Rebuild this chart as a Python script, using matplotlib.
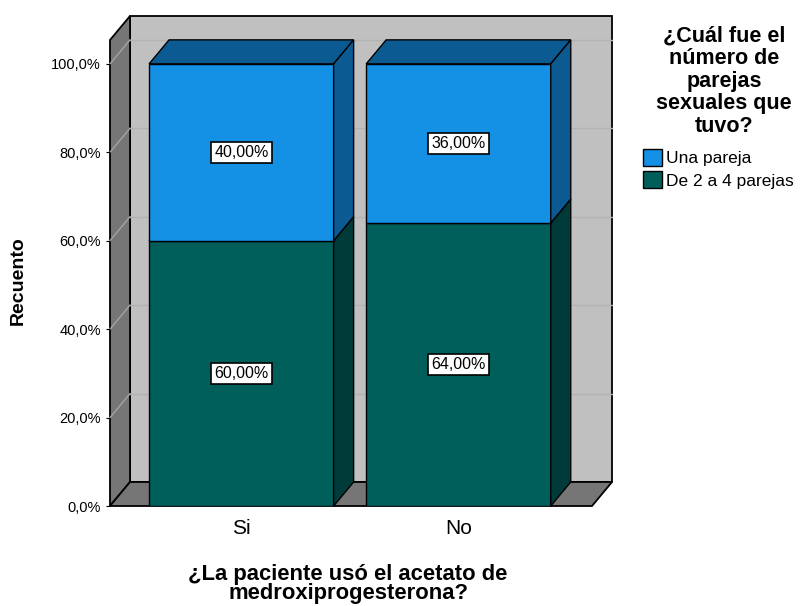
import numpy as np
import matplotlib.pyplot as plt
from matplotlib.patches import Polygon, Patch

# data
categories = ["Si", "No"]
series_names = ["Una pareja", "De 2 a 4 parejas"]
una_pareja = [40.0, 36.0]
de_2_a_4 = [60.0, 64.0]
yticks = [0, 20, 40, 60, 80, 100]

plt.rcParams['font.family'] = ['Liberation Sans', 'DejaVu Sans']

W, H = 801, 606
fig = plt.figure(figsize=(W / 100, H / 100), dpi=100)
# front plane of the 3D box
ax = fig.add_axes([110 / W, (H - 506) / H, 482 / W, 466 / H])
xmin, xmax = -0.605, 1.615
ymax = 105.4
ax.set_xlim(xmin, xmax)
ax.set_ylim(0, ymax)

# depth offset of the 3D effect (in data units)
dx = 20 / (482 / (xmax - xmin))
dy = 24 / (466 / ymax)

wall_dark = "#767676"
wall_light = "#c0c0c0"

# back wall, left wall, floor
ax.add_patch(Polygon([(xmin + dx, dy), (xmax + dx, dy), (xmax + dx, ymax + dy), (xmin + dx, ymax + dy)],
                     closed=True, fc=wall_light, ec="black", lw=1.3, clip_on=False, zorder=0))
ax.add_patch(Polygon([(xmin, 0), (xmin + dx, dy), (xmin + dx, ymax + dy), (xmin, ymax)],
                     closed=True, fc=wall_dark, ec="black", lw=1.3, clip_on=False, zorder=1))
ax.add_patch(Polygon([(xmin, 0), (xmax, 0), (xmax + dx, dy), (xmin + dx, dy)],
                     closed=True, fc=wall_dark, ec="black", lw=1.3, clip_on=False, zorder=1))

# gridlines on back and left walls
for v in yticks[1:]:
    ax.plot([xmin + dx, xmax + dx], [v + dy, v + dy], color="#b2b2b2", lw=1, zorder=1.5, clip_on=False)
    ax.plot([xmin, xmin + dx], [v, v + dy], color="#a4a4a4", lw=1, zorder=1.5, clip_on=False)

x = np.arange(len(categories))
bw = 0.85
series = [(de_2_a_4, "#005f5b", "#003b39"), (una_pareja, "#1490e4", "#0b5a92")]
bottoms = np.zeros(len(categories))
for vals, front, dark in series:
    vals = np.array(vals)
    ax.bar(x, vals, bw, bottom=bottoms, color=front, edgecolor="black", lw=1, zorder=3)
    for xi, b, v in zip(x, bottoms, vals):
        xr = xi + bw / 2
        xl = xi - bw / 2
        ax.add_patch(Polygon([(xr, b), (xr + dx, b + dy), (xr + dx, b + v + dy), (xr, b + v)],
                             closed=True, fc=dark, ec="black", lw=1, zorder=3, clip_on=False))
        ax.add_patch(Polygon([(xl, b + v), (xr, b + v), (xr + dx, b + v + dy), (xl + dx, b + v + dy)],
                             closed=True, fc=dark, ec="black", lw=1, zorder=2.9, clip_on=False))
        ax.text(xi, b + v / 2, f"{v:.2f}%".replace(".", ","), ha="center", va="center", fontsize=11.5,
                zorder=5, bbox=dict(boxstyle="square,pad=0.2", fc="white", ec="black", lw=1.2))
    bottoms = bottoms + vals

for s in ax.spines.values():
    s.set_visible(False)
ax.set_yticks(yticks)
ax.set_yticklabels([f"{v:.1f}%".replace(".", ",") for v in yticks], fontsize=10.5)
ax.set_xticks(x)
ax.set_xticklabels(categories, fontsize=15)
ax.tick_params(axis="x", length=0, pad=9)
ax.tick_params(axis="y", length=3, pad=3.5)

fig.text(18 / W, 1 - 281 / H, "Recuento", rotation=90, ha="center", va="center",
         fontsize=14, fontweight="bold")
fig.text(348 / W, 1 - 584 / H, "¿La paciente usó el acetato de\nmedroxiprogesterona?",
         ha="center", va="center", fontsize=15.8, fontweight="bold", linespacing=0.92)

# legend title as its own text, legend entries below
fig.text(724 / W, 1 - 81 / H, "¿Cuál fue el\nnúmero de\nparejas\nsexuales que\ntuvo?",
         ha="center", va="center", fontsize=15.5, fontweight="bold", linespacing=1.1)
handles = [Patch(fc="#1490e4", ec="black", lw=1), Patch(fc="#005f5b", ec="black", lw=1)]
fig.legend(handles, series_names, loc="upper left", bbox_to_anchor=(643 / W, 1 - 149 / H),
           frameon=False, fontsize=12.5, handlelength=1.1, handleheight=1.1,
           handletextpad=0.2, labelspacing=0.3, borderpad=0, borderaxespad=0)

fig.savefig("out.png", dpi=100)
